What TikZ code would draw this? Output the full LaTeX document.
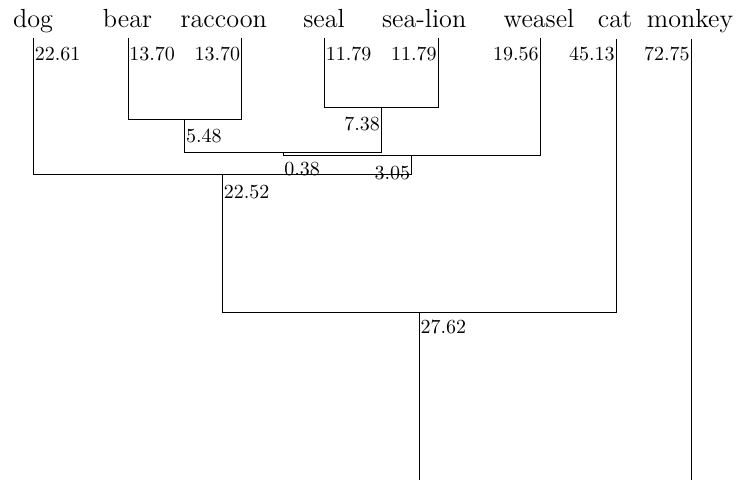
\documentclass[tikz,border=0pt]{standalone}
\begin{document}
\begin{tikzpicture}[x=0.5pt,y=-0.5pt,
  branch/.style={draw=black,line width=0.4pt},
  leafname/.style={anchor=base,inner sep=0pt,font=\fontsize{13.1}{15}\selectfont},
  lenleft/.style={anchor=north west,inner sep=0pt,font=\fontsize{10}{12}\selectfont},
  lenright/.style={anchor=north east,inner sep=0pt,font=\fontsize{10}{12}\selectfont}]
\useasboundingbox (0,0) rectangle (737,479);

% leaf tips
\coordinate (dog) at (33.5,38);
\coordinate (bear) at (128,37.5);
\coordinate (raccoon) at (241.5,37.5);
\coordinate (seal) at (324.5,37.5);
\coordinate (sealion) at (438,37.5);
\coordinate (weasel) at (540,37.5);
\coordinate (cat) at (616,38.5);
\coordinate (monkey) at (691,38.5);

% internal joins
\coordinate (br) at (184.75,119);
\coordinate (ss) at (381.25,107.7);
\coordinate (ab) at (283,152.7);
\coordinate (abw) at (411.5,155.7);
\coordinate (dj) at (222.5,174.5);
\coordinate (cj) at (419.25,312);
\coordinate (root) at (555,480.6);

% branches
\path[branch] (br) -| (bear) (br) -| (raccoon);
\path[branch] (ss) -| (seal) (ss) -| (sealion);
\path[branch] (ab) -| (br) (ab) -| (ss);
\path[branch] (abw) -| (ab) (abw) -| (weasel);
\path[branch] (dj) -| (dog) (dj) -| (abw);
\path[branch] (cj) -| (dj) (cj) -| (cat);
\path[branch] (root) -| (cj) (root) -| (monkey);

% leaf names
\node[leafname] (ndog) at (33,27) {dog};
\node[leafname] (nbear) at (127.5,27) {bear};
\node[leafname] (nraccoon) at (223.8,27) {raccoon};
\node[leafname] (nseal) at (324,27) {seal};
\node[leafname] (nsealion) at (424.2,27) {sea-lion};
\node[leafname] (nweasel) at (539,27) {weasel};
\node[leafname] (ncat) at (615,27) {cat};
\node[leafname] (nmonkey) at (690,27) {monkey};

% branch lengths
\node[lenleft] (ldog) at (34.5,47) {22.61};
\node[lenleft] (lbear) at (129,47) {13.70};
\node[lenright] (lraccoon) at (240.5,47) {13.70};
\node[lenleft] (lseal) at (325.5,47) {11.79};
\node[lenright] (lsealion) at (437,47) {11.79};
\node[lenright] (lweasel) at (539,47) {19.56};
\node[lenright] (lcat) at (615,47) {45.13};
\node[lenright] (lmonkey) at (690,47) {72.75};
\node[lenleft] (lbr) at (185.75,128.3) {5.48};
\node[lenright] (lss) at (380.25,116.7) {7.38};
\node[lenleft] (lab) at (284,161.7) {0.38};
\node[lenright] (labw) at (410.5,166) {3.05};
\node[lenleft] (ldj) at (223.5,185) {22.52};
\node[lenleft] (lcj) at (420.25,319.3) {27.62};
\end{tikzpicture}
\end{document}
